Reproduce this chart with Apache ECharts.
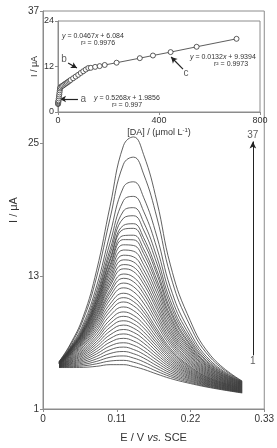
<!DOCTYPE html>
<html>
<head>
<meta charset="utf-8">
<script src="https://cdn.jsdelivr.net/npm/echarts@6/dist/echarts.min.js"></script>
<style>
  html, body { margin: 0; padding: 0; background: #fff; }
  #chart { width: 277px; height: 448px; }
</style>
</head>
<body>
<div id="chart"></div>
<script>
// DPV scans: potential grid (V vs. SCE) shared by every scan
const potentials = [0.024, 0.04, 0.06, 0.08, 0.10, 0.12, 0.135, 0.15, 0.17, 0.19, 0.215, 0.25, 0.297]

// current (uA) of scans 1..37 at each potential
const currents = [
  [4.75, 4.75, 4.77, 4.86, 5.01, 5.01, 4.84, 4.59, 4.16, 3.76, 3.37, 2.92, 2.45],
  [4.77, 4.82, 4.90, 5.09, 5.34, 5.40, 5.23, 4.93, 4.41, 3.93, 3.47, 2.97, 2.48],
  [4.78, 4.88, 5.03, 5.31, 5.68, 5.80, 5.61, 5.27, 4.66, 4.09, 3.58, 3.03, 2.51],
  [4.80, 4.95, 5.16, 5.53, 6.02, 6.20, 6.00, 5.61, 4.91, 4.26, 3.68, 3.08, 2.54],
  [4.81, 5.02, 5.29, 5.76, 6.36, 6.60, 6.38, 5.95, 5.16, 4.43, 3.79, 3.14, 2.57],
  [4.83, 5.08, 5.42, 5.99, 6.70, 6.99, 6.77, 6.29, 5.41, 4.60, 3.89, 3.19, 2.60],
  [4.84, 5.15, 5.55, 6.21, 7.04, 7.39, 7.15, 6.63, 5.67, 4.77, 4.00, 3.24, 2.63],
  [4.86, 5.21, 5.68, 6.44, 7.37, 7.79, 7.54, 6.97, 5.92, 4.94, 4.10, 3.30, 2.66],
  [4.87, 5.28, 5.82, 6.66, 7.71, 8.19, 7.93, 7.31, 6.17, 5.10, 4.21, 3.35, 2.69],
  [4.89, 5.34, 5.95, 6.89, 8.05, 8.59, 8.31, 7.65, 6.42, 5.27, 4.31, 3.41, 2.72],
  [4.90, 5.41, 6.08, 7.11, 8.39, 8.98, 8.70, 7.99, 6.67, 5.44, 4.42, 3.46, 2.75],
  [4.92, 5.47, 6.21, 7.34, 8.73, 9.38, 9.08, 8.34, 6.92, 5.61, 4.52, 3.51, 2.78],
  [4.93, 5.54, 6.34, 7.56, 9.06, 9.78, 9.47, 8.68, 7.17, 5.78, 4.63, 3.57, 2.81],
  [4.95, 5.61, 6.48, 7.81, 9.45, 10.23, 9.90, 9.06, 7.45, 5.96, 4.74, 3.63, 2.84],
  [4.96, 5.68, 6.63, 8.06, 9.83, 10.68, 10.33, 9.44, 7.73, 6.15, 4.86, 3.68, 2.87],
  [4.98, 5.75, 6.76, 8.29, 10.16, 11.07, 10.72, 9.78, 7.98, 6.32, 4.97, 3.74, 2.90],
  [4.99, 5.81, 6.89, 8.52, 10.50, 11.47, 11.11, 10.12, 8.23, 6.49, 5.07, 3.79, 2.93],
  [5.01, 5.87, 7.02, 8.74, 10.87, 11.96, 11.61, 10.58, 8.60, 6.73, 5.22, 3.86, 2.96],
  [5.02, 5.92, 7.12, 8.94, 11.19, 12.39, 12.06, 11.01, 8.94, 6.96, 5.36, 3.93, 2.99],
  [5.04, 5.96, 7.22, 9.13, 11.50, 12.82, 12.51, 11.43, 9.28, 7.18, 5.50, 4.00, 3.02],
  [5.05, 6.00, 7.31, 9.29, 11.76, 13.21, 12.92, 11.82, 9.60, 7.40, 5.63, 4.07, 3.05],
  [5.07, 6.05, 7.41, 9.49, 12.10, 13.68, 13.43, 12.30, 9.98, 7.65, 5.79, 4.14, 3.08],
  [5.08, 6.09, 7.49, 9.64, 12.35, 14.06, 13.84, 12.69, 10.31, 7.87, 5.93, 4.21, 3.11],
  [5.10, 6.12, 7.58, 9.81, 12.64, 14.49, 14.30, 13.13, 10.68, 8.12, 6.08, 4.29, 3.14],
  [5.11, 6.16, 7.66, 9.97, 12.92, 14.91, 14.76, 13.58, 11.05, 8.36, 6.23, 4.36, 3.17],
  [5.13, 6.20, 7.75, 10.15, 13.23, 15.38, 15.27, 14.07, 11.46, 8.64, 6.40, 4.44, 3.20],
  [5.14, 6.23, 7.83, 10.32, 13.53, 15.85, 15.79, 14.57, 11.88, 8.91, 6.57, 4.52, 3.23],
  [5.16, 6.26, 7.91, 10.48, 13.83, 16.32, 16.30, 15.07, 12.30, 9.19, 6.74, 4.61, 3.26],
  [5.17, 6.28, 7.96, 10.60, 14.05, 16.68, 16.72, 15.48, 12.66, 9.43, 6.89, 4.68, 3.29],
  [5.19, 6.32, 8.06, 10.80, 14.40, 17.25, 17.34, 16.08, 13.16, 9.76, 7.10, 4.77, 3.32],
  [5.20, 6.34, 8.10, 10.90, 14.60, 17.61, 17.76, 16.50, 13.53, 10.01, 7.25, 4.85, 3.35],
  [5.22, 6.38, 8.21, 11.12, 15.02, 18.26, 18.48, 17.20, 14.12, 10.39, 7.49, 4.96, 3.38],
  [5.23, 6.42, 8.31, 11.34, 15.42, 18.91, 19.21, 17.90, 14.71, 10.78, 7.72, 5.06, 3.41],
  [5.25, 6.47, 8.47, 11.68, 16.03, 19.85, 20.23, 18.89, 15.53, 11.32, 8.04, 5.20, 3.44],
  [5.26, 6.55, 8.69, 12.13, 16.83, 21.06, 21.55, 20.15, 16.57, 11.99, 8.44, 5.36, 3.47],
  [5.28, 6.69, 9.08, 12.94, 18.24, 23.14, 23.78, 22.26, 18.28, 13.10, 9.08, 5.62, 3.50],
  [5.29, 6.79, 9.36, 13.56, 19.34, 24.82, 25.61, 24.02, 19.73, 14.03, 9.63, 5.84, 3.53],
]

// inset: peak current vs [DA]
const concentrations = [0.2, 0.5, 1, 1.5, 2, 3, 4, 5, 6, 7, 8,
  10, 15, 20, 25, 30, 35, 40, 45, 50, 60, 70, 80, 90, 100, 110, 120,
  130, 147, 165, 185, 232, 324, 376, 446, 549, 707]
const peakCurrents = [2.1, 2.25, 2.5, 2.8, 3.05, 3.55, 4.1, 4.6, 5.15, 5.7, 6.2,
  6.55, 6.8, 7.0, 7.25, 7.5, 7.7, 7.95, 8.2, 8.45, 8.9, 9.35, 9.8, 10.3, 10.75, 11.2, 11.6,
  11.65, 11.9, 12.1, 12.4, 13.0, 14.2, 14.9, 15.8, 17.2, 19.3]

// tick labels
const potentialTicks = [0, 0.11, 0.22, 0.33]
const currentTicks = [1, 13, 25, 37]
const insetConcTicks = [0, 400, 800]
const insetCurrentTicks = [0, 12, 24]

// scan arrow (1 -> 37)
const scanArrow = { potential: 0.313, from: 5.85, to: 25.2 }
const scanLabels = [['1', 0.313, 5.3], ['37', 0.313, 25.75]]

// inset arrows pointing at the three linear ranges
const rangeArrows = [
  [[79, 3.43], [8, 3.43]],
  [[40, 12.9], [75, 11.6]],
  [[495, 11.3], [448, 14.5]],
]
const rangeLabels = [['a', 100, 3.43], ['b', 24, 13.8], ['c', 507, 10.2]]

const fits = [
  { slope: '0.0467', intercept: '6.084', r2: '0.9976' },
  { slope: '0.0132', intercept: '9.9394', r2: '0.9973' },
  { slope: '0.5268', intercept: '1.9856', r2: '0.997' },
]

const font = 'Liberation Sans, Arial, sans-serif'
const axisGray = '#8c8c8c'
const ink = '#333'

const chart = echarts.init(document.getElementById('chart'))

function axisBase(ticks, size) {
  return {
    min: ticks[0],
    max: ticks[ticks.length - 1],
    interval: ticks[1] - ticks[0],
    nameMoveOverlap: false,
    axisLine: { lineStyle: { color: axisGray, width: 1 } },
    axisTick: { show: true, length: 3, lineStyle: { color: axisGray } },
    splitLine: { show: false },
    axisLabel: { color: ink, fontSize: size, fontFamily: font, margin: 4 },
    nameTextStyle: { color: ink, fontFamily: font },
  }
}

const curveSeries = currents.map((curve, i) => ({
  name: 'scan ' + (i + 1),
  type: 'line',
  xAxisIndex: 0,
  yAxisIndex: 0,
  data: potentials.map((e, j) => [e, curve[j]]),
  showSymbol: false,
  smooth: 0.45,
  silent: true,
  lineStyle: { color: '#3a3a3a', width: 0.8 },
}))

const eqRich = {
  i: { fontStyle: 'italic', fontSize: 7, fill: ink, fontFamily: font },
  n: { fontSize: 7, fill: ink, fontFamily: font },
}
function eqText(f) {
  return '{i|y}{n| = ' + f.slope + '}{i|x}{n| + ' + f.intercept + '}'
}
// equation text positions (px)
const eqPos = [[62, 33, 81, 40], [190, 54, 214, 61], [94, 95, 112, 102]]

const graphic = []
fits.forEach((f, i) => {
  const p = eqPos[i]
  graphic.push({ type: 'text', left: p[0], top: p[1], z: 20,
    style: { text: eqText(f), rich: eqRich, fontSize: 7, fill: ink } })
  graphic.push({ type: 'text', left: p[2], top: p[3], z: 20,
    style: { text: 'r\u00b2 = ' + f.r2, fontSize: 7, fill: ink, fontFamily: font } })
})

const option = {
  animation: false,
  backgroundColor: '#fff',
  grid: [
    { left: 31, right: 9, top: 11, bottom: 30, show: true, borderColor: axisGray, borderWidth: 1 },
    { left: 58, right: 17, top: 21, bottom: 336, show: true, borderColor: axisGray, borderWidth: 1,
      backgroundColor: '#fff', z: 5 },
  ],
  xAxis: [
    Object.assign(axisBase(potentialTicks, 10), {
      type: 'value', gridIndex: 0,
      axisLabel: { color: ink, fontSize: 10, fontFamily: font, margin: 5,
        formatter: v => (v === 0 ? '0' : v.toFixed(2)) },
      name: '{n|E / V }{i|vs.}{n| SCE}',
      nameLocation: 'middle', nameGap: 23,
      nameTextStyle: { rich: {
        n: { fontSize: 11, fontFamily: font, color: ink },
        i: { fontSize: 11, fontFamily: font, color: ink, fontStyle: 'italic' },
      } },
    }),
    Object.assign(axisBase(insetConcTicks, 9), {
      type: 'value', gridIndex: 1, z: 6,
      name: '{n|[DA] / (\u03bcmol L}{s|-1}{n|)}',
      nameLocation: 'middle', nameGap: 15,
      nameTextStyle: { rich: {
        n: { fontSize: 9, fontFamily: font, color: ink },
        s: { fontSize: 6, fontFamily: font, color: ink, verticalAlign: 'top', padding: [0, 0, 5, 0] },
      } },
    }),
  ],
  yAxis: [
    Object.assign(axisBase(currentTicks, 10), {
      type: 'value', gridIndex: 0,
      name: 'I / \u03bcA', nameLocation: 'middle', nameGap: 24,
      nameTextStyle: { fontSize: 11, fontFamily: font, color: ink },
    }),
    Object.assign(axisBase(insetCurrentTicks, 9), {
      type: 'value', gridIndex: 1, z: 6,
      name: 'I / \u03bcA', nameLocation: 'middle', nameGap: 19,
      nameTextStyle: { fontSize: 9, fontFamily: font, color: ink },
    }),
  ],
  graphic: graphic,
  series: curveSeries.concat([
    {
      name: 'scan arrow',
      type: 'scatter',
      xAxisIndex: 0,
      yAxisIndex: 0,
      symbolSize: 0,
      silent: true,
      data: scanLabels.map(d => [d[1], d[2], d[0]]),
      label: { show: true, position: 'inside', formatter: p => p.data[2],
        fontSize: 10, fontFamily: font, color: ink },
      markLine: {
        silent: true,
        symbol: ['none', 'arrow'],
        symbolSize: [5, 7],
        label: { show: false },
        lineStyle: { color: '#222', width: 1, type: 'solid' },
        data: [[{ coord: [scanArrow.potential, scanArrow.from] }, { coord: [scanArrow.potential, scanArrow.to] }]],
      },
    },
    {
      name: 'peak current',
      type: 'line',
      xAxisIndex: 1,
      yAxisIndex: 1,
      z: 10,
      data: concentrations.map((c, i) => [c, peakCurrents[i]]),
      symbol: 'circle',
      symbolSize: 5,
      silent: true,
      lineStyle: { color: ink, width: 0.8 },
      itemStyle: { color: '#fff', borderColor: ink, borderWidth: 0.8 },
      markLine: {
        silent: true,
        symbol: ['none', 'arrow'],
        symbolSize: [5, 6],
        label: { show: false },
        lineStyle: { color: '#222', width: 1.2, type: 'solid' },
        data: rangeArrows.map(a => [{ coord: a[0] }, { coord: a[1] }]),
      },
    },
    {
      name: 'range labels',
      type: 'scatter',
      xAxisIndex: 1,
      yAxisIndex: 1,
      z: 11,
      symbolSize: 0,
      silent: true,
      data: rangeLabels.map(d => [d[1], d[2], d[0]]),
      label: { show: true, position: 'inside', formatter: p => p.data[2],
        fontSize: 10, fontFamily: font, color: ink },
    },
  ]),
}

chart.setOption(option)
</script>
</body>
</html>
